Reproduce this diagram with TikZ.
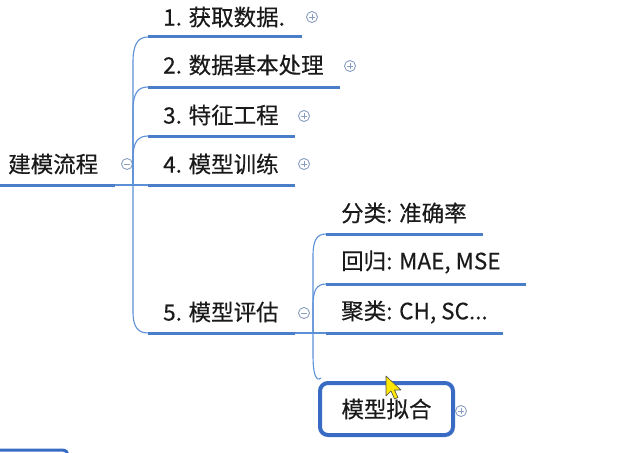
\documentclass[tikz,border=0pt]{standalone}
\usepackage{fontspec}
\setmainfont{Noto Sans CJK SC}[FakeBold=0.4]
\definecolor{ublue}{HTML}{4A7EC8}
\definecolor{cblue}{HTML}{5B8FD6}
\definecolor{bblue}{HTML}{3A6BC4}
\definecolor{igray}{HTML}{8A9CC0}
\definecolor{txtc}{HTML}{1A1A1A}
\begin{document}
\begin{tikzpicture}[x=1pt,y=-1pt,
  ul/.style={draw=ublue, line width=3pt},
  conn/.style={draw=cblue, line width=1.1pt},
  txt/.style={anchor=west, font=\fontsize{22.5}{27}\selectfont, text=txtc, inner sep=0pt},
  icon/.style={circle, draw=igray, line width=0.9pt, minimum size=11pt, inner sep=0pt},
  plusicon/.style={icon, path picture={\draw[igray, line width=0.9pt]
      ([xshift=-2.8pt]path picture bounding box.center) -- ([xshift=2.8pt]path picture bounding box.center)
      ([yshift=-2.8pt]path picture bounding box.center) -- ([yshift=2.8pt]path picture bounding box.center);}},
  minusicon/.style={icon, path picture={\draw[igray, line width=0.9pt]
      ([xshift=-2.8pt]path picture bounding box.center) -- ([xshift=2.8pt]path picture bounding box.center);}}
]
\useasboundingbox (0,0) rectangle (623,452);

% root
\node[txt] (root) at (8,164) {建模流程};
\coordinate (rootend) at (115,185);
\draw[ul] (0,185) -- (rootend);
\node[minusicon] (rooti) at (127,164) {};

% children text
\node[txt] (c1) at (163,17) {1. 获取数据.};
\node[txt] (c2) at (163,65) {2. 数据基本处理};
\node[txt] (c3) at (163,115) {3. 特征工程};
\node[txt] (c4) at (163,164) {4. 模型训练};
\node[txt] (c5) at (163,312) {5. 模型评估};

% underlines
\coordinate (c1s) at (148,37);  \coordinate (c1e) at (302,37);
\coordinate (c2s) at (148,87);  \coordinate (c2e) at (340,87);
\coordinate (c3s) at (148,136); \coordinate (c3e) at (295,136);
\coordinate (c4s) at (148,185); \coordinate (c4e) at (295,185);
\coordinate (c5s) at (148,333); \coordinate (c5e) at (295,333);
\foreach \i in {1,...,5} {\draw[ul] (c\i s) -- (c\i e);}

% icons
\node[plusicon] (c1i) at (312,17) {};
\node[plusicon] (c2i) at (350,66) {};
\node[plusicon] (c3i) at (304,116) {};
\node[plusicon] (c4i) at (304,164) {};
\node[minusicon] (c5i) at (304,313) {};

% connectors from root
\coordinate (sp) at (133,185);
\draw[conn] (rootend) -- (c4s);
\draw[conn] (sp) -- (133,62) .. controls (133,44) and (138,37) .. (c1s);
\draw[conn] (sp) -- (133,110) .. controls (133,93) and (138,87) .. (c2s);
\draw[conn] (sp) -- (133,158) .. controls (133,142) and (138,136) .. (c3s);
\draw[conn] (sp) -- (133,312) .. controls (133,327) and (138,333) .. (c5s);

% grandchildren
\node[txt] (g1) at (341,213) {分类: 准确率};
\node[txt] (g2) at (341,262) {回归: MAE, MSE};
\node[txt] (g3) at (341,312) {聚类: CH, SC...};
\coordinate (g1s) at (326,234); \coordinate (g1e) at (483,234);
\coordinate (g2s) at (326,284); \coordinate (g2e) at (526,284);
\coordinate (g3s) at (326,333); \coordinate (g3e) at (503,333);
\foreach \i in {1,2,3} {\draw[ul] (g\i s) -- (g\i e);}

\node[draw=bblue, line width=4pt, rounded corners=8pt, minimum width=133pt, minimum height=52pt,
      font=\fontsize{22.5}{27}\selectfont, text=txtc, inner sep=0pt] (g4) at (386.5,409) {模型拟合};
\node[plusicon] (g4i) at (461,411) {};

\coordinate (sp2) at (313,333);
\draw[conn] (c5e) -- (g3s);
\draw[conn] (sp2) -- (313,256) .. controls (313,240) and (317,234) .. (g1s);
\draw[conn] (sp2) -- (313,305) .. controls (313,290) and (317,284) .. (g2s);
\draw[conn] (sp2) -- (313,355) .. controls (313,374) and (316,382) .. ([xshift=3pt,yshift=3pt]g4.north west);

% partial box at bottom left
\draw[ul, draw=bblue] (-5,450) -- (62,450) .. controls (66,450) and (68,452) .. (68,458);

% mouse cursor
\draw[fill=yellow!90!orange, draw=black!70, line width=0.6pt, line join=round]
  (386,376) -- (386,396) -- (391,391) -- (394.5,399) -- (398,397.5) -- (394.5,390) -- (401,390) -- cycle;
\end{tikzpicture}
\end{document}
